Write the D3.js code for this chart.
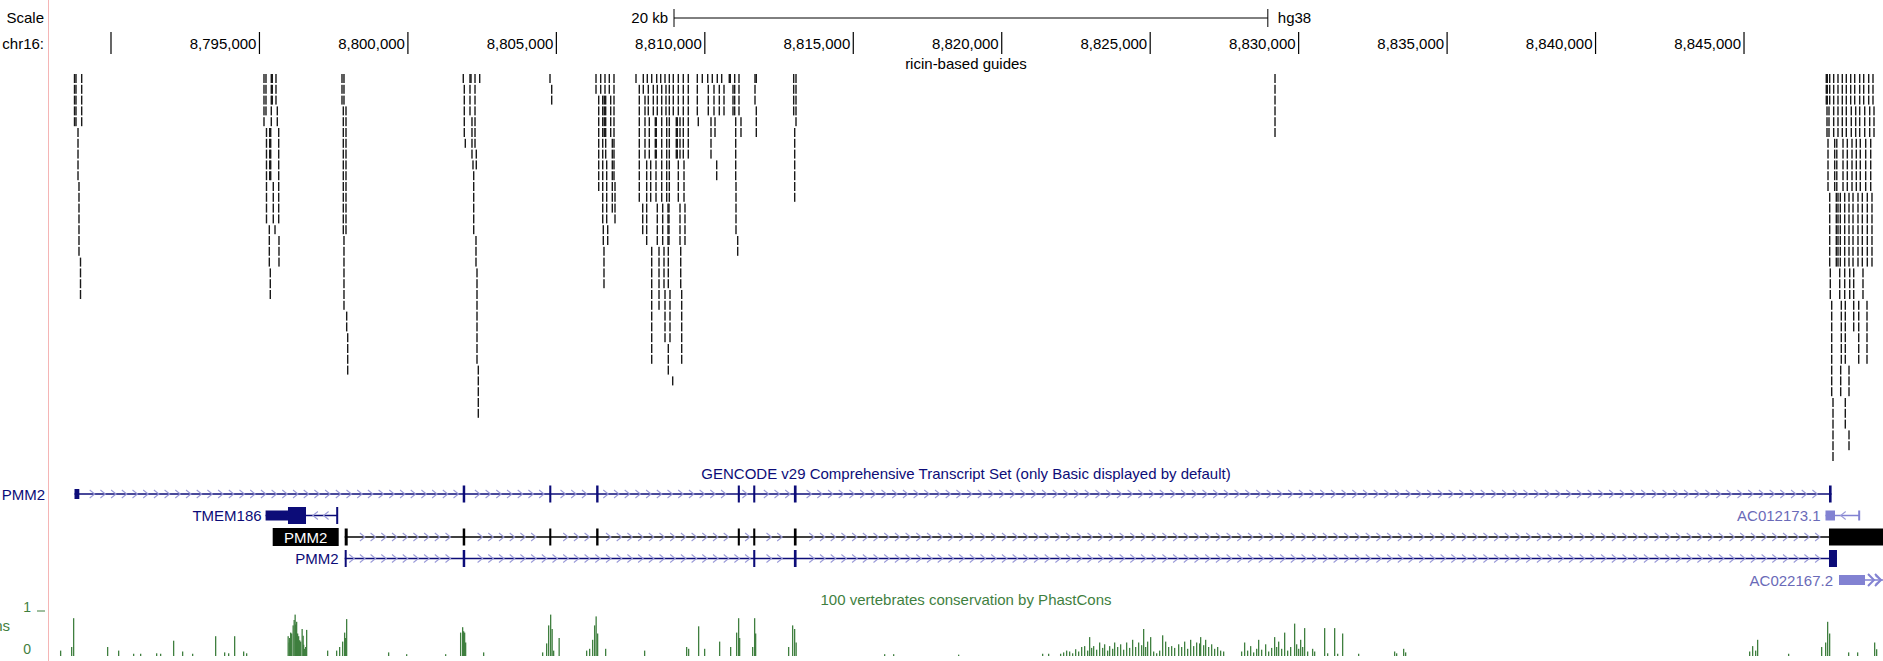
<!DOCTYPE html>
<html>
<head>
<meta charset="utf-8">
<title>PMM2 ricin-based guides</title>
<style>
  html, body { margin: 0; padding: 0; background: #fff; overflow: hidden; }
  svg { display: block; font-family: "Liberation Sans", Arial, sans-serif; }
</style>
</head>
<body>
<div id="chart"></div>
<script src="https://cdn.jsdelivr.net/npm/d3@7"></script>
<script>
// browser window, the first 49px are the track-label column
var width = 1883, height = 661, labelW = 49;

// genome window shown (hg38 chr16)
var viewStart = 8787912, viewEnd = 8849681;

// ruler
var tickPositions = [8790000, 8795000, 8800000, 8805000, 8810000, 8815000, 8820000,
                     8825000, 8830000, 8835000, 8840000, 8845000];
var tickLabels = ["", "8,795,000", "8,800,000", "8,805,000", "8,810,000", "8,815,000",
                  "8,820,000", "8,825,000", "8,830,000", "8,835,000", "8,840,000", "8,845,000"];
var scaleBarStart = 8808962, scaleBarLength = 20000;

// ricin-based guides: [position, first row, last row] (rows stack downwards)
var guideSegments = [
  [8788771,0,4],[8788821,0,4],[8789013,0,4],[8788889,5,9],[8788922,10,16],[8788973,17,20],
  [8795153,0,4],[8795220,0,3],[8795237,5,13],[8795399,0,4],[8795433,0,2],[8795345,5,9],[8795379,5,9],
  [8795332,14,17],[8795365,18,20],[8795557,0,2],[8795601,3,4],[8795648,5,13],[8795466,10,13],
  [8795524,14,14],[8795658,15,17],
  [8797780,0,2],[8797847,0,2],[8797824,3,14],[8797915,3,14],[8797847,15,21],[8797938,22,23],[8797972,24,27],
  [8801865,0,0],[8801899,1,5],[8801933,6,6],[8802091,0,3],[8802125,0,0],[8802158,4,7],[8802192,8,8],
  [8802216,9,14],[8802293,15,17],[8802327,18,26],[8802371,27,31],[8802260,0,6],[8802303,7,8],[8802418,0,0],
  [8804786,0,0],[8804843,1,2],
  [8806335,0,1],[8806426,2,10],[8806493,0,1],[8806561,2,13],[8806581,14,15],[8806604,16,19],[8806614,2,5],
  [8806638,0,1],[8806661,2,7],[8806695,8,13],[8806729,14,15],[8806783,0,1],[8806830,2,5],[8806884,6,12],
  [8806941,0,9],[8806975,10,13],
  [8807682,0,0],[8807793,1,11],[8807908,12,14],[8807928,0,1],[8807985,2,7],[8808042,8,15],[8808063,0,0],
  [8808096,1,3],[8808130,4,7],[8808177,8,11],[8808211,16,26],[8808211,0,0],[8808265,1,3],[8808332,4,7],
  [8808366,4,7],[8808356,8,11],[8808399,12,15],[8808457,16,21],[8808379,0,0],[8808399,1,3],[8808514,0,0],
  [8808548,1,11],[8808581,12,15],[8808625,16,19],[8808659,20,24],[8808659,0,0],[8808692,1,3],[8808716,4,11],
  [8808760,12,15],[8808793,12,15],[8808770,16,19],[8808827,20,24],[8808770,25,27],[8808918,28,28],
  [8808804,0,11],[8808938,0,3],[8809039,4,7],[8809073,4,7],[8809107,8,11],[8809164,12,15],[8809188,16,19],
  [8809221,20,26],[8809107,0,3],[8809164,4,7],[8809275,0,7],[8809299,8,11],[8809332,12,15],[8809443,0,7],
  [8809747,0,3],[8809780,4,4],[8809915,0,0],[8810097,0,0],[8810117,1,3],[8810208,4,7],[8810252,0,0],
  [8810309,1,3],[8810343,4,5],[8810400,8,9],[8810420,0,0],[8810488,1,3],[8810568,0,0],[8810646,1,3],
  [8810824,0,0],[8810858,0,0],[8810949,1,3],[8811006,1,3],[8811040,4,9],[8811050,10,14],[8811107,15,16],
  [8811006,0,0],[8811151,0,3],[8811218,4,5],
  [8811690,0,2],[8811734,0,0],[8811734,3,5],
  [8812993,0,3],[8813071,0,4],[8813027,5,11],
  [8829204,0,5],
  [8847771,0,2],[8847795,3,5],[8847829,6,10],[8847886,11,17],[8847906,18,20],[8847953,21,29],[8847997,30,35],
  [8847805,0,2],[8847862,3,5],[8847886,0,2],
  [8848020,0,5],[8848054,6,10],[8848108,11,17],[8848223,18,20],[8848277,21,26],[8848256,27,29],
  [8848165,0,5],[8848125,6,10],[8848165,11,17],[8848243,11,17],
  [8848310,0,5],[8848334,6,10],[8848391,11,20],[8848411,21,26],[8848411,30,32],
  [8848445,0,5],[8848479,6,10],[8848536,11,17],[8848560,18,20],[8848536,27,29],[8848536,33,34],
  [8848593,0,2],[8848613,3,5],[8848637,6,10],[8848671,11,17],[8848694,18,23],
  [8848728,0,2],[8848761,3,5],[8848782,6,10],[8848839,11,17],[8848863,21,26],
  [8848896,0,5],[8848916,6,10],[8848984,11,17],[8849007,18,20],
  [8849031,0,2],[8849065,3,5],[8849098,6,10],[8849152,11,17],[8849142,21,26],
  [8849199,0,2],[8849233,3,5],[8849267,6,10],[8849310,11,17],
  [8849344,0,2],[8849378,3,5]
];

// GENCODE v29 transcripts: exons are [start, end, kind]; kind "u" = UTR (thin)
var pmm2aExons = [[8788771,8788933,"u"],[8801846,8801930],[8804760,8804830],[8806340,8806420],
                  [8811110,8811180],[8811630,8811700],[8813000,8813090],[8847862,8847950]];
var tmem186Exons = [[8795207,8795961,"u"],[8795961,8796568],[8797585,8797612]];
var ac012173Exons = [[8847744,8848064,"u"],[8848845,8848873,"u"]];
var pmm2bExons = [[8797871,8797972],[8801846,8801930],[8804760,8804830],[8806340,8806420],
                  [8811110,8811180],[8811630,8811700],[8813000,8813090],[8847862,8849800]];
var pmm2cExons = [[8797871,8797905],[8801846,8801930],[8811630,8811700],[8813000,8813090],
                  [8847862,8848131]];
var ac022167Exons = [[8848199,8849075,"u"]];

// 100 vertebrates PhastCons: [position, score]
var consScores = [
  [8788282,0.12],[8788653,0.2],[8788720,0.84],[8789865,0.2],[8790236,0.12],[8790741,0.05],[8790977,0.05],
  [8791516,0.06],[8791650,0.05],[8792088,0.34],[8792391,0.1],[8792728,0.05],[8793503,0.44],[8793806,0.08],
  [8793941,0.06],[8794143,0.44],[8794446,0.1],[8794547,0.06],
  [8795945,0.44],[8795979,0.3],[8795996,0.4],[8796029,0.52],[8796063,0.5],[8796113,0.68],[8796147,0.8],
  [8796180,0.92],[8796197,0.7],[8796231,0.76],[8796264,0.5],[8796298,0.44],[8796332,0.35],[8796366,0.32],
  [8796416,0.6],[8796450,0.45],[8796467,0.25],[8796500,0.16],[8796534,0.2],[8796568,0.58],
  [8797275,0.12],[8797578,0.12],[8797679,0.2],[8797780,0.32],[8797847,0.52],[8797881,0.4],[8797915,0.82],
  [8799329,0.08],[8799936,0.04],[8801249,0.04],[8801754,0.52],[8801822,0.64],[8801855,0.55],[8801889,0.52],
  [8801923,0.3],[8802529,0.08],
  [8804516,0.08],[8804651,0.28],[8804718,0.68],[8804786,0.92],[8804836,0.6],[8804887,0.12],[8805072,0.4],
  [8805998,0.12],[8806099,0.16],[8806200,0.36],[8806267,0.68],[8806318,0.88],[8806368,0.5],[8806638,0.16],
  [8807951,0.12],[8809366,0.2],[8809433,0.16],[8809770,0.66],[8809972,0.16],[8810477,0.32],[8810848,0.2],
  [8811050,0.52],[8811117,0.84],[8811151,0.4],[8811589,0.2],[8811656,0.84],[8811690,0.5],[8812801,0.2],
  [8812936,0.68],[8813003,0.6],[8813054,0.3],
  [8816035,0.04],[8816338,0.04],[8818527,0.03],[8821356,0.05],[8821558,0.05],
  [8821962,0.05],[8822063,0.08],[8822164,0.12],[8822265,0.1],[8822366,0.06],[8822468,0.15],[8822569,0.1],
  [8822670,0.2],[8822771,0.22],[8822872,0.12],[8822939,0.42],[8823006,0.18],[8823074,0.22],[8823175,0.14],
  [8823276,0.3],[8823377,0.18],[8823444,0.26],[8823545,0.12],[8823613,0.22],[8823714,0.16],[8823781,0.3],
  [8823882,0.2],[8823983,0.26],[8824084,0.14],[8824185,0.3],[8824286,0.18],[8824387,0.36],[8824488,0.2],
  [8824589,0.3],[8824690,0.24],[8824758,0.6],[8824825,0.2],[8824892,0.32],[8824994,0.42],[8825095,0.1],
  [8825196,0.06],[8825297,0.12],[8825398,0.46],[8825499,0.32],[8825600,0.2],[8825701,0.22],[8825802,0.18],
  [8825937,0.26],[8826038,0.2],[8826139,0.32],[8826240,0.16],[8826341,0.36],[8826442,0.22],[8826543,0.3],
  [8826644,0.28],[8826678,0.42],[8826779,0.24],[8826846,0.36],[8826947,0.2],[8827048,0.26],[8827149,0.16],
  [8827250,0.2],[8827351,0.12],[8827452,0.1],
  [8828058,0.1],[8828159,0.3],[8828260,0.12],[8828362,0.22],[8828463,0.08],[8828564,0.16],[8828631,0.36],
  [8828732,0.14],[8828867,0.26],[8828968,0.1],[8829069,0.18],[8829170,0.42],[8829237,0.2],[8829305,0.32],
  [8829406,0.16],[8829507,0.52],[8829608,0.12],[8829709,0.2],[8829843,0.72],[8829911,0.26],[8829978,0.16],
  [8830046,0.36],[8830113,0.2],[8830180,0.62],[8830281,0.1],[8830449,0.16],[8830517,0.1],[8830854,0.62],
  [8830955,0.06],[8831191,0.62],[8831292,0.05],[8831460,0.5],[8831999,0.05],
  [8833211,0.1],[8833279,0.06],[8833515,0.16],[8833582,0.08],
  [8845168,0.1],[8845269,0.22],[8845370,0.12],[8845437,0.36],[8846481,0.05],[8847593,0.2],[8847728,0.3],
  [8847795,0.76],[8847862,0.5],[8848502,0.08],[8848805,0.08],[8849378,0.3],[8849445,0.15]
];

var navy = "#0c0c78", lilac = "#8282d2", arrowCol = "#9a9ad8", green = "#3f7f3f";

var x = d3.scaleLinear().domain([viewStart, viewEnd]).range([labelW, width]);

var svg = d3.select("#chart").append("svg")
    .attr("width", width)
    .attr("height", height);

// ---- ruler ----
svg.append("text").attr("x", 44).attr("y", 23).attr("text-anchor", "end")
    .attr("font-size", 15).text("Scale");
svg.append("text").attr("x", 44).attr("y", 49).attr("text-anchor", "end")
    .attr("font-size", 15).text("chr16:");

var sb0 = x(scaleBarStart), sb1 = x(scaleBarStart + scaleBarLength);
svg.append("line").attr("x1", sb0).attr("x2", sb1).attr("y1", 18).attr("y2", 18)
    .attr("stroke", "#000");
[sb0, sb1].forEach(function(p) {
  svg.append("line").attr("x1", p).attr("x2", p).attr("y1", 9).attr("y2", 27).attr("stroke", "#000");
});
svg.append("text").attr("x", sb0 - 6).attr("y", 23).attr("text-anchor", "end")
    .attr("font-size", 15).text("20 kb");
svg.append("text").attr("x", sb1 + 10).attr("y", 23)
    .attr("font-size", 15).text("hg38");

var ticks = svg.append("g").selectAll("g")
  .data(tickPositions)
  .enter().append("g");
ticks.append("line")
    .attr("x1", function(d) { return x(d); })
    .attr("x2", function(d) { return x(d); })
    .attr("y1", 32).attr("y2", 54)
    .attr("stroke", "#000").attr("stroke-width", 1.2);
ticks.append("text")
    .attr("x", function(d) { return x(d) - 3; })
    .attr("y", 49)
    .attr("text-anchor", "end")
    .attr("font-size", 15)
    .text(function(d, i) { return tickLabels[i]; });

// ---- guides ----
var guideTop = 74, rowPitch = 10.8, guideH = 9;
svg.append("text").attr("x", (labelW + width) / 2).attr("y", 69).attr("text-anchor", "middle")
    .attr("font-size", 15).text("ricin-based guides");

var guideRects = [];
guideSegments.forEach(function(s) {
  for (var r = s[1]; r <= s[2]; r++) guideRects.push({ pos: s[0], row: r });
});
svg.append("g").selectAll("rect")
  .data(guideRects)
  .enter().append("rect")
    .attr("x", function(d) { return x(d.pos) - 0.7; })
    .attr("y", function(d) { return guideTop + d.row * rowPitch; })
    .attr("width", 1.4)
    .attr("height", guideH)
    .attr("fill", "#1a1a1a");

// ---- GENCODE ----
svg.append("text").attr("x", (labelW + width) / 2).attr("y", 479).attr("text-anchor", "middle")
    .attr("font-size", 15).attr("fill", navy)
    .text("GENCODE v29 Comprehensive Transcript Set (only Basic displayed by default)");

var rowY = [494, 515.5, 537, 558.5, 580];
var fullH = 17, utrH = 10;

function drawTranscript(exons, row, strand, lineCol, exonCol, lineEnd) {
  var cy = rowY[row];
  var g = svg.append("g");
  var s = exons[0][0], e = lineEnd || exons[exons.length - 1][1];
  g.append("line").attr("x1", x(s)).attr("x2", Math.min(x(e), width)).attr("y1", cy).attr("y2", cy)
      .attr("stroke", lineCol).attr("stroke-width", 1.3);
  // intron direction arrows on a regular grid, skipped over exons
  var px0 = x(s), px1 = Math.min(x(e), width);
  for (var p = px0 + 7; p < px1 - 4; p += 10.7) {
    var hit = exons.some(function(ex) { return p > x(ex[0]) - 5 && p < x(ex[1]) + 5; });
    if (hit) continue;
    var d = strand === "+" ? -2.5 : 2.5;
    g.append("path")
        .attr("d", "M" + (p + d) + "," + (cy - 4) + "L" + (p - d) + "," + cy + "L" + (p + d) + "," + (cy + 4))
        .attr("fill", "none").attr("stroke", arrowCol).attr("stroke-width", 1.1);
  }
  g.selectAll("rect")
    .data(exons)
    .enter().append("rect")
      .attr("x", function(d) { return x(d[0]); })
      .attr("width", function(d) { return Math.max(2, x(d[1]) - x(d[0])); })
      .attr("y", function(d) { return cy - (d[2] === "u" ? utrH : fullH) / 2; })
      .attr("height", function(d) { return d[2] === "u" ? utrH : fullH; })
      .attr("fill", exonCol);
  return g;
}

function geneLabel(txt, px, row, col) {
  svg.append("text").attr("x", px).attr("y", rowY[row] + 5.5).attr("text-anchor", "end")
      .attr("font-size", 15).attr("fill", col).text(txt);
}

drawTranscript(pmm2aExons, 0, "+", navy, navy);
geneLabel("PMM2", 45, 0, navy);

drawTranscript(tmem186Exons, 1, "-", navy, navy);
geneLabel("TMEM186", x(tmem186Exons[0][0]) - 4, 1, navy);
drawTranscript(ac012173Exons, 1, "-", lilac, lilac);
geneLabel("AC012173.1", x(ac012173Exons[0][0]) - 5, 1, "#6a6ab8");

// highlighted PMM2 transcript (black, with inverted label)
drawTranscript(pmm2bExons, 2, "+", "#000", "#000");
var lb1 = x(pmm2bExons[0][0]) - 6;
svg.append("rect").attr("x", lb1 - 66).attr("y", rowY[2] - 9).attr("width", 66).attr("height", 18)
    .attr("fill", "#000");
svg.append("text").attr("x", lb1 - 33).attr("y", rowY[2] + 5.5).attr("text-anchor", "middle")
    .attr("font-size", 15).attr("fill", "#fff").text("PMM2");

drawTranscript(pmm2cExons, 3, "+", navy, navy);
geneLabel("PMM2", x(pmm2cExons[0][0]) - 6, 3, navy);

drawTranscript(ac022167Exons, 4, "+", lilac, lilac, viewEnd);
geneLabel("AC022167.2", x(ac022167Exons[0][0]) - 6, 4, "#6a6ab8");
// continuation arrows where the transcript runs past the window
[x(ac022167Exons[0][1]) + 3, x(ac022167Exons[0][1]) + 10].forEach(function(p) {
  svg.append("path")
      .attr("d", "M" + p + "," + (rowY[4] - 6) + "L" + (p + 6) + "," + rowY[4] + "L" + p + "," + (rowY[4] + 6))
      .attr("fill", "none").attr("stroke", lilac).attr("stroke-width", 2);
});

// ---- conservation ----
var cy = d3.scaleLinear().domain([0, 1]).range([656, 611]);
svg.append("text").attr("x", (labelW + width) / 2).attr("y", 605).attr("text-anchor", "middle")
    .attr("font-size", 15).attr("fill", green).text("100 vertebrates conservation by PhastCons");
svg.append("text").attr("x", 31).attr("y", cy(1) + 1).attr("text-anchor", "end")
    .attr("font-size", 14).attr("fill", green).text("1");
svg.append("line").attr("x1", 37).attr("x2", 45).attr("y1", cy(1)).attr("y2", cy(1))
    .attr("stroke", green);
svg.append("text").attr("x", 31).attr("y", cy(0) - 2).attr("text-anchor", "end")
    .attr("font-size", 14).attr("fill", green).text("0");
// track label only partly inside the window, as in the browser
svg.append("text").attr("x", 10).attr("y", 631).attr("text-anchor", "end")
    .attr("font-size", 15).attr("fill", green).text("Cons");

svg.append("g").selectAll("rect")
  .data(consScores)
  .enter().append("rect")
    .attr("x", function(d) { return x(d[0]); })
    .attr("y", function(d) { return cy(d[1]); })
    .attr("width", 1.3)
    .attr("height", function(d) { return cy(0) - cy(d[1]); })
    .attr("fill", green);

// label-column divider
svg.append("line").attr("x1", labelW - 0.5).attr("x2", labelW - 0.5).attr("y1", 0).attr("y2", height)
    .attr("stroke", "#f5b5b5");
</script>
</body>
</html>
